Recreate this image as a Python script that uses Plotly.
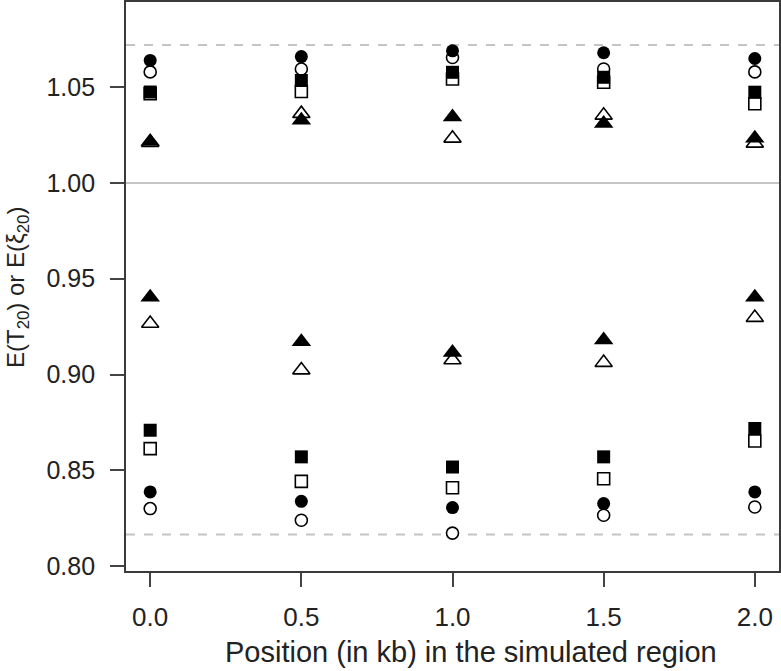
import plotly.graph_objects as go

positions = [0.0, 0.5, 1.0, 1.5, 2.0]

# upper cluster (above 1)
filled_circle_upper = [1.064, 1.066, 1.069, 1.068, 1.065]
open_circle_upper = [1.058, 1.0595, 1.0655, 1.0595, 1.058]
filled_square_upper = [1.0475, 1.0535, 1.0578, 1.0552, 1.0474]
open_square_upper = [1.0466, 1.0478, 1.0543, 1.0526, 1.0414]
filled_triangle_upper = [1.0216, 1.0328, 1.0345, 1.031, 1.0233]
open_triangle_upper = [1.021, 1.0362, 1.0233, 1.0353, 1.0207]

# lower cluster (below 1)
filled_triangle_lower = [0.9404, 0.9171, 0.9115, 0.918, 0.9404]
open_triangle_lower = [0.9266, 0.9023, 0.9076, 0.9062, 0.9297]
filled_square_lower = [0.8709, 0.857, 0.8517, 0.857, 0.8718]
open_square_lower = [0.8613, 0.8442, 0.8409, 0.8456, 0.8653]
filled_circle_lower = [0.8387, 0.8338, 0.8305, 0.8326, 0.8387]
open_circle_lower = [0.830, 0.8239, 0.8172, 0.8265, 0.8308]

reference_solid = 1.00
reference_dashed = [1.072, 0.8164]

y_ticks = [0.80, 0.85, 0.90, 0.95, 1.00, 1.05]
x_ticks = [0.0, 0.5, 1.0, 1.5, 2.0]

FONT = "Liberation Sans, Arial, Helvetica, sans-serif"

fig = go.Figure()

def add(name, ys, symbol, filled, size):
    fig.add_trace(go.Scatter(
        x=positions, y=ys, mode="markers", name=name, showlegend=False,
        marker=dict(symbol=symbol, size=size,
                    color="black" if filled else "white",
                    line=dict(color="black", width=0 if filled else 1.6)),
    ))

# open markers first (white-filled), filled markers on top
add("open circle (upper)", open_circle_upper, "circle", False, 12)
add("open circle (lower)", open_circle_lower, "circle", False, 12)
add("open square (upper)", open_square_upper, "square", False, 12)
add("open square (lower)", open_square_lower, "square", False, 12)
add("open triangle (upper)", open_triangle_upper, "triangle-up", False, 15)
add("open triangle (lower)", open_triangle_lower, "triangle-up", False, 15)
add("filled circle (upper)", filled_circle_upper, "circle", True, 13)
add("filled circle (lower)", filled_circle_lower, "circle", True, 13)
add("filled square (upper)", filled_square_upper, "square", True, 13)
add("filled square (lower)", filled_square_lower, "square", True, 13)
add("filled triangle (upper)", filled_triangle_upper, "triangle-up", True, 17)
add("filled triangle (lower)", filled_triangle_lower, "triangle-up", True, 17)

shapes = [dict(type="line", xref="paper", yref="y", x0=0, x1=1,
               y0=reference_solid, y1=reference_solid,
               line=dict(color="#c4c4c4", width=2), layer="below")]
for v in reference_dashed:
    shapes.append(dict(type="line", xref="paper", yref="y", x0=0, x1=1,
                       y0=v, y1=v, line=dict(color="#c4c4c4", width=2, dash="dash"),
                       layer="below"))

fig.update_layout(
    width=781, height=671,
    margin=dict(l=126, r=2, t=0, b=100),
    plot_bgcolor="white", paper_bgcolor="white",
    font=dict(family=FONT, size=25, color="#222"),
    shapes=shapes,
    xaxis=dict(range=[-0.08, 2.08], tickvals=x_ticks,
               ticktext=[f"{v:.1f}" for v in x_ticks],
               showgrid=False, zeroline=False, showline=True, mirror=True,
               linecolor="#3a3a3a", linewidth=1.8, ticks="outside", ticklen=14,
               tickwidth=1.6, tickcolor="#444", ticklabelstandoff=8,
               tickfont=dict(size=26)),
    yaxis=dict(range=[0.7974, 1.0945], tickvals=y_ticks,
               ticktext=[f"{v:.2f}" for v in y_ticks],
               showgrid=False, zeroline=False, showline=True, mirror=True,
               linecolor="#3a3a3a", linewidth=1.8, ticks="outside", ticklen=14,
               tickwidth=1.6, tickcolor="#444", ticklabelstandoff=10,
               tickfont=dict(size=25)),
    annotations=[
        dict(text="Position (in kb) in the simulated region", xref="paper", yref="paper",
             x=(471 - 126) / 653, y=(571 - 652) / 571, xanchor="center", yanchor="middle",
             showarrow=False, font=dict(size=29, color="#222")),
        dict(text="E(T<sub>20</sub>) or E(ξ<sub>20</sub>)", xref="paper", yref="paper",
             x=(18 - 126) / 653, y=(571 - 287) / 571, xanchor="center", yanchor="middle",
             textangle=-90, showarrow=False, font=dict(size=24, color="#222")),
    ],
)

fig.write_html("out.html", config={"displayModeBar": False},
               post_script="document.body.style.margin='0px';")
